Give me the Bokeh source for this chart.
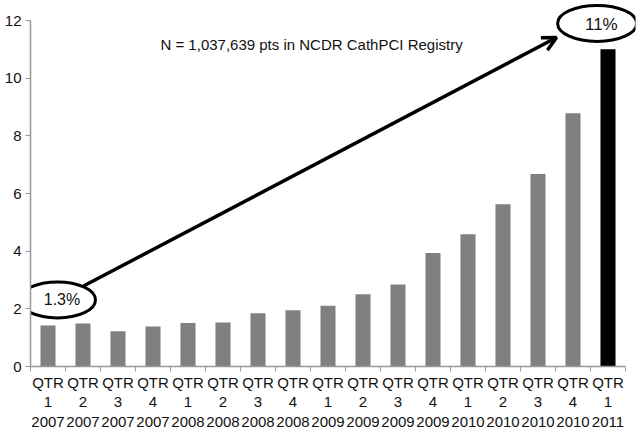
from bokeh.plotting import figure
from bokeh.models import Range1d, FixedTicker, Arrow, OpenHead, ColumnDataSource
from bokeh.core.properties import value
from bokeh.embed import file_html
from bokeh.resources import INLINE

# ---- data ----
quarters = ["1", "2", "3", "4", "1", "2", "3", "4", "1", "2", "3", "4",
            "1", "2", "3", "4", "1"]
years = ["2007", "2007", "2007", "2007", "2008", "2008", "2008", "2008",
         "2009", "2009", "2009", "2009", "2010", "2010", "2010", "2010", "2011"]
rates = [1.42, 1.49, 1.22, 1.39, 1.51, 1.53, 1.85, 1.95, 2.11, 2.51, 2.84,
         3.94, 4.59, 5.63, 6.68, 8.78, 11.0]
bar_colors = ["#808080"] * 16 + ["#000000"]
y_ticks = [0, 2, 4, 6, 8, 10, 12]
note = "N = 1,037,639 pts in NCDR CathPCI Registry"
start_label = "1.3%"
end_label = "11%"

FONT = "Liberation Sans"
n = len(rates)
xs = [i + 0.5 for i in range(n)]
labels = {x: "QTR\n%s\n%s" % (q, y) for x, q, y in zip(xs, quarters, years)}

p = figure(width=642, height=432, output_backend="svg", toolbar_location=None,
           x_range=Range1d(0, 17.286), y_range=Range1d(0, 12.694),
           min_border_left=30, min_border_right=7, min_border_top=0,
           min_border_bottom=64)
p.outline_line_color = None
p.grid.visible = False
p.background_fill_color = "white"
p.border_fill_color = "white"

src = ColumnDataSource(dict(x=xs, top=rates, color=bar_colors))
p.vbar(x="x", top="top", width=0.43, bottom=0, fill_color="color",
       line_color=None, source=src)

AX = "#999999"
# x axis
xa = p.xaxis[0]
xa.bounds = (0, n)
xa.ticker = FixedTicker(ticks=xs, minor_ticks=list(range(n + 1)))
xa.major_label_overrides = labels
xa.major_tick_line_color = None
xa.major_tick_out = 0
xa.minor_tick_line_color = AX
xa.minor_tick_out = 5
xa.minor_tick_in = 0
xa.axis_line_color = AX
xa.axis_line_width = 1.5
xa.major_label_standoff = 2
xa.major_label_text_font = FONT
xa.major_label_text_font_size = "15px"
xa.major_label_text_color = "#111111"
xa.major_label_text_line_height = 1.15

# y axis
ya = p.yaxis[0]
ya.bounds = (0, 12)
ya.ticker = FixedTicker(ticks=y_ticks)
ya.minor_tick_line_color = None
ya.major_tick_line_color = AX
ya.major_tick_out = 5
ya.major_tick_in = 0
ya.axis_line_color = AX
ya.axis_line_width = 1.5
ya.major_label_standoff = 4
ya.major_label_text_font = FONT
ya.major_label_text_font_size = "15px"
ya.major_label_text_color = "#111111"

# annotations
p.text(x=[8.03], y=[11.17], text=[note], text_font=value(FONT),
       text_font_size="15px", text_align="center", text_baseline="middle",
       text_color="#111111")

p.add_layout(Arrow(end=OpenHead(size=14, line_width=3.5, line_color="black"),
                   x_start=1.514, y_start=2.79, x_end=15.03, y_end=11.41,
                   line_width=3.5, line_color="black"))

p.ellipse(x=[0.771, 16.19], y=[2.31, 11.9], width=[76, 79], height=[36, 36],
          width_units="screen", height_units="screen", fill_color=None,
          line_color="black", line_width=3)

p.text(x=[0.9], y=[2.31], text=[start_label], text_font=value(FONT),
       text_font_size="16px", text_align="center", text_baseline="middle",
       text_color="#111111")
p.text(x=[16.31], y=[11.85], text=[end_label], text_font=value(FONT),
       text_font_size="17px", text_align="center", text_baseline="middle",
       text_color="#111111")

open("out.html", "w").write(file_html(p, INLINE))
